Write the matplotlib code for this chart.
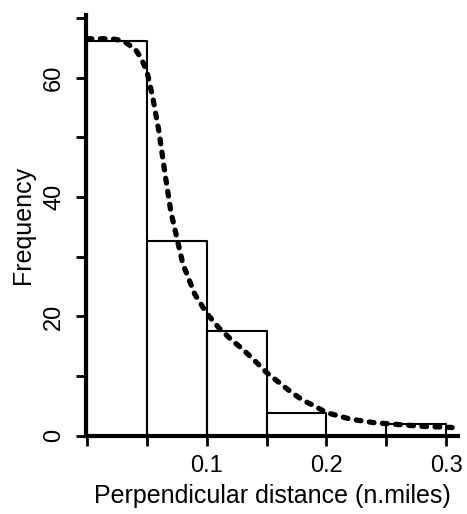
import matplotlib
matplotlib.use("Agg")
import matplotlib.pyplot as plt
from matplotlib.ticker import MultipleLocator

plt.rcParams['font.family'] = ['Liberation Sans', 'DejaVu Sans']

# histogram of perpendicular distances
bin_edges = [0.0, 0.05, 0.10, 0.15, 0.20, 0.25, 0.30]
counts = [66.2, 32.7, 17.6, 3.9, 0.0, 2.0]

# fitted detection curve
curve_x = [0.0, 0.01, 0.02, 0.03, 0.04, 0.045, 0.05, 0.055, 0.06, 0.065, 0.07,
           0.08, 0.09, 0.10, 0.11, 0.12, 0.13, 0.14, 0.15, 0.16, 0.17, 0.18,
           0.19, 0.20, 0.22, 0.24, 0.26, 0.28, 0.30, 0.305]
curve_y = [66.5, 66.5, 66.5, 66.2, 64.8, 63.3, 61.0, 56.5, 51.0, 44.0, 37.5,
           28.8, 23.7, 20.5, 18.1, 16.2, 14.5, 12.6, 10.6, 9.0, 7.4, 6.0,
           5.0, 3.9, 2.8, 2.2, 1.9, 1.6, 1.45, 1.4]

fig = plt.figure(figsize=(4.67, 5.14), dpi=100)
ax = fig.add_axes([0.184, 0.152, 0.797, 0.819])

# bars drawn as outlines
for i in range(len(counts)):
    x0, x1 = bin_edges[i], bin_edges[i + 1]
    ax.plot([x0, x0, x1, x1], [0, counts[i], counts[i], 0], color='black', lw=1.5)

ax.plot(curve_x, curve_y, color='black', lw=3.8, linestyle=(0, (0.9, 1.6)),
        dash_capstyle='round')

ax.set_xlim(-0.001, 0.31)
ax.set_ylim(0, 70.5)

ax.spines['top'].set_visible(False)
ax.spines['right'].set_visible(False)
ax.spines['left'].set_linewidth(3)
ax.spines['bottom'].set_linewidth(3)

ax.xaxis.set_major_locator(MultipleLocator(0.1))
ax.xaxis.set_minor_locator(MultipleLocator(0.05))
ax.yaxis.set_major_locator(MultipleLocator(20))
ax.yaxis.set_minor_locator(MultipleLocator(10))
ax.set_xticks([0.1, 0.2, 0.3])
ax.set_xticklabels(['0.1', '0.2', '0.3'])
ax.tick_params(which='both', direction='out', length=7, width=2, labelsize=17)
ax.tick_params(axis='x', pad=7)
ax.tick_params(axis='y', pad=8)
for lab in ax.get_yticklabels():
    lab.set_rotation(90)
    lab.set_va('center')

ax.set_xlabel('Perpendicular distance (n.miles)', fontsize=18, labelpad=5)
ax.set_ylabel('Frequency', fontsize=18, labelpad=6)

fig.savefig('out.png', dpi=100)
